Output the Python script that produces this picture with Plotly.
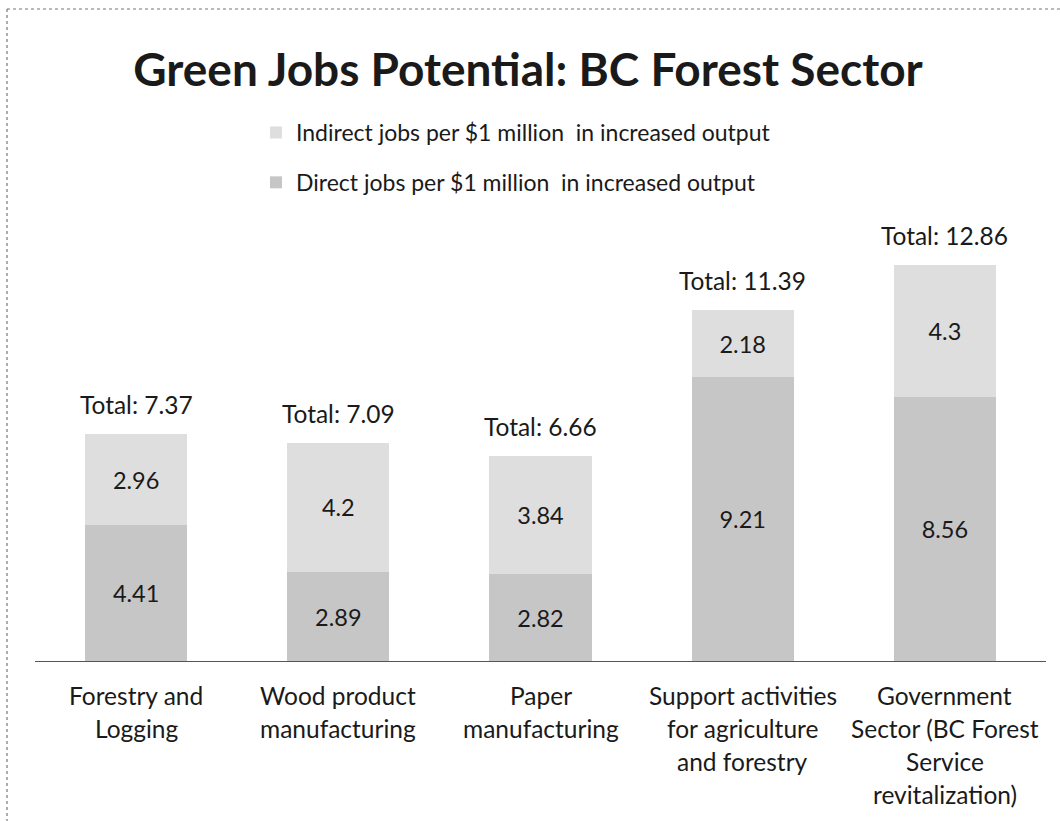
import plotly.graph_objects as go

categories = [
    "Forestry and<br>Logging",
    "Wood product<br>manufacturing",
    "Paper<br>manufacturing",
    "Support activities<br>for agriculture<br>and forestry",
    "Government<br>Sector (BC Forest<br>Service<br>revitalization)",
]
direct_jobs = [4.41, 2.89, 2.82, 9.21, 8.56]
indirect_jobs = [2.96, 4.2, 3.84, 2.18, 4.3]
totals = [7.37, 7.09, 6.66, 11.39, 12.86]

FONT = "Lato"
W, H = 1060, 821
L, R, T, B = 35, 14, 230, 160

x_ids = list(range(len(categories)))

fig = go.Figure()
fig.add_trace(go.Bar(
    x=x_ids, y=direct_jobs,
    name="Direct jobs per $1 million  in increased output",
    marker=dict(color="#c6c6c6", line=dict(width=0)),
    text=[f"{v:g}" for v in direct_jobs], textposition="inside",
    insidetextanchor="middle",
    textfont=dict(family=FONT, size=23.5, color="#1a1a1a"),
    legendgroup="d", legendrank=2,
))
fig.add_trace(go.Bar(
    x=x_ids, y=indirect_jobs,
    name="Indirect jobs per $1 million  in increased output",
    marker=dict(color="#dedede", line=dict(width=0)),
    text=[f"{v:g}" for v in indirect_jobs], textposition="inside",
    insidetextanchor="middle",
    textfont=dict(family=FONT, size=23.5, color="#1a1a1a"),
    legendgroup="i", legendrank=1,
))

annotations = []
for i, t in enumerate(totals):
    annotations.append(dict(
        x=i, y=t, xref="x", yref="y", text=f"Total: {t:g}",
        showarrow=False, yanchor="bottom", yshift=13,
        font=dict(family=FONT, size=24.5, color="#1a1a1a"),
    ))
# category labels, one line at a time for wider line spacing
for i, lab in enumerate(categories):
    for j, line in enumerate(lab.split("<br>")):
        annotations.append(dict(
            x=i, y=0, xref="x", yref="y", text=line,
            showarrow=False, yanchor="middle", yshift=-(34 + 33 * j),
            font=dict(family=FONT, size=24.5, color="#1a1a1a"),
        ))

pw = W - L - R
ph = H - T - B
def px_x(p):
    return (p - L) / pw
def px_y(p):
    return (H - B - p) / ph

fig.update_layout(
    width=W, height=H,
    margin=dict(l=L, r=R, t=T, b=B),
    paper_bgcolor="white", plot_bgcolor="white",
    barmode="stack", bargap=0.495,
    title=dict(text="<b>Green Jobs Potential: BC Forest Sector</b>",
               x=528 / W, xref="container", xanchor="center",
               y=1 - 70 / H, yanchor="middle",
               font=dict(family=FONT, size=46, color="#1a1a1a")),
    legend=dict(
        x=px_x(256), y=px_y(111), xanchor="left", yanchor="top",
        font=dict(family=FONT, size=23, color="#1a1a1a"),
        traceorder="grouped", tracegroupgap=17,
        bgcolor="rgba(0,0,0,0)",
    ),
    xaxis=dict(range=[-0.5, len(categories) - 0.5], showticklabels=False,
               showline=True, linecolor="#555555", linewidth=1,
               ticks="", showgrid=False, zeroline=False),
    yaxis=dict(range=[0, 14], visible=False, showgrid=False),
    annotations=annotations,
    shapes=[
        dict(type="line", xref="paper", yref="paper",
             x0=px_x(7), x1=px_x(1070), y0=px_y(9), y1=px_y(9),
             line=dict(color="#777777", width=1.2, dash="dot")),
        dict(type="line", xref="paper", yref="paper",
             x0=px_x(7), x1=px_x(7), y0=px_y(9), y1=px_y(830),
             line=dict(color="#777777", width=1.2, dash="dot")),
    ],
    uniformtext=dict(mode="show", minsize=10),
)

fig.write_html("out.html")
